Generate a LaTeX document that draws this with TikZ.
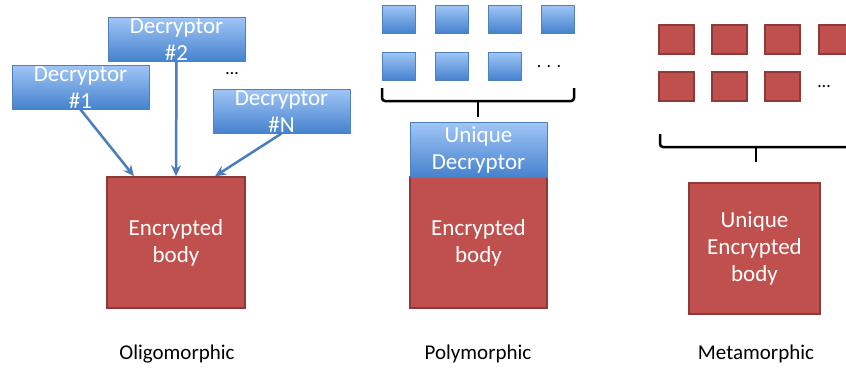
\documentclass[tikz,border=0pt]{standalone}
\usepackage{fontspec}
\setmainfont{Carlito}
\usepackage{tikz}
\usetikzlibrary{positioning}
\usetikzlibrary{arrows.meta}
\definecolor{bodyred}{RGB}{192,80,77}
\definecolor{bodyedge}{RGB}{142,58,56}
\definecolor{decedge}{RGB}{79,129,189}
\definecolor{declight}{RGB}{160,198,246}
\definecolor{decdark}{RGB}{70,130,206}
\definecolor{arrowblue}{RGB}{74,126,187}

\begin{document}
\begin{tikzpicture}[
x=1pt, y=-1pt,
decbox/.style={rectangle, draw=decedge, line width=1pt, top color=declight, bottom color=decdark, minimum width=137pt, minimum height=44pt, inner sep=0pt},
bodybox/.style={rectangle, draw=bodyedge, line width=1.5pt, fill=bodyred, minimum width=138pt, minimum height=131pt, inner sep=0pt},
bluesq/.style={rectangle, draw=decedge, line width=0.8pt, top color=declight, bottom color=decdark, minimum width=33pt, minimum height=28pt, inner sep=0pt},
redsq/.style={rectangle, draw=bodyedge, line width=1.5pt, fill=bodyred, minimum width=35pt, minimum height=29pt, inner sep=0pt},
boxtext/.style={text=white, align=center, inner sep=0pt, font=\fontsize{23}{27}\selectfont},
dotstext/.style={font=\fontsize{18}{20}\selectfont},
caption/.style={font=\fontsize{21}{24}\selectfont},
arrowline/.style={draw=arrowblue, line width=2.5pt, -{Stealth[length=11pt,width=10pt]}},
bracepath/.style={draw=black, line width=2.5pt, rounded corners=3pt},
]
\clip (0,0) rectangle (846,368);

%Oligomorphic
\node[bodybox] (olibody) at (176,242.5) {};
\node[boxtext] (olitext) at (olibody) {Encrypted\\body};
\node[decbox]  (dec2) at (176.5,39) {};
\node[boxtext] (dec2text) at (176.5,40) {Decryptor\\\#2};
\node[decbox]  (dec1) at (80.5,87) {};
\node[boxtext] (dec1text) at (80.5,88) {Decryptor\\\#1};
\node[decbox]  (decN) at (281.5,111) {};
\node[boxtext] (decNtext) at (281.5,112) {Decryptor\\\#N};
\node[dotstext] (olidots) at (232,74) {…};

%Polymorphic
\foreach \i/\x in {1/398.5,2/451.5,3/504.5,4/557.5}
  \node[bluesq] (pa\i) at (\x,19) {};
\foreach \i/\x in {1/398.5,2/451.5,3/504.5}
  \node[bluesq] (pb\i) at (\x,66) {};
\node[dotstext] (polydots) at (549,67) {. . .};
\node[bodybox, minimum width=137pt] (polybody) at (478.5,242.5) {};
\node[boxtext] (polytext) at (polybody) {Encrypted\\body};
\node[decbox, minimum height=55pt] (udec) at (478.5,149.5) {};
\node[boxtext] (udectext) at (478.5,150) {Unique\\Decryptor};

%Metamorphic
\foreach \i/\x in {1/676.5,2/729.5,3/782.5,4/836.5}
  \node[redsq] (ma\i) at (\x,39.5) {};
\foreach \i/\x in {1/676.5,2/729.5,3/782.5}
  \node[redsq] (mb\i) at (\x,86.5) {};
\node[dotstext] (metadots) at (824,87) {…};
\node[bodybox, minimum width=131pt] (metabody) at (754.5,248.5) {};
\node[boxtext] (metatext) at (metabody) {Unique\\Encrypted\\body};

%Captions
\node[caption] (olicap)  at (177,354) {Oligomorphic};
\node[caption] (polycap) at (478,354) {Polymorphic};
\node[caption] (metacap) at (756,354) {Metamorphic};

%Lines
\draw[arrowline] (dec1.south) -- ([xshift=-42pt]olibody.north);
\draw[arrowline] (dec2.south) -- (olibody.north);
\draw[arrowline] (decN.south) -- ([xshift=39pt]olibody.north);

%Braces
\draw[bracepath] (382,88) -- (382,101) -- (574,101) -- (574,88);
\draw[bracepath] (478,101) -- (478,117);
\draw[bracepath] (660,134) -- (660,147) -- (870,147);
\draw[bracepath] (756,147) -- (756,162);
\end{tikzpicture}
\end{document}
